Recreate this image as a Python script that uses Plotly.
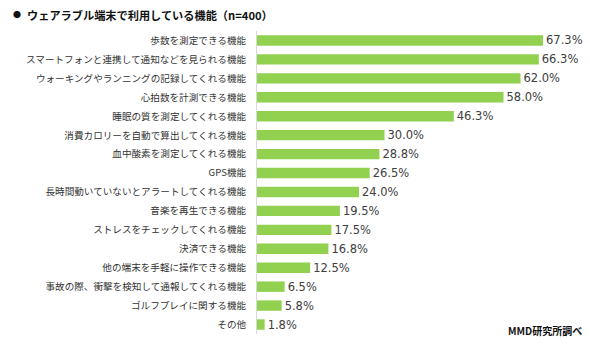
import plotly.graph_objects as go

categories = [
    "歩数を測定できる機能",
    "スマートフォンと連携して通知などを見られる機能",
    "ウォーキングやランニングの記録してくれる機能",
    "心拍数を計測できる機能",
    "睡眠の質を測定してくれる機能",
    "消費カロリーを自動で算出してくれる機能",
    "血中酸素を測定してくれる機能",
    "GPS機能",
    "長時間動いていないとアラートしてくれる機能",
    "音楽を再生できる機能",
    "ストレスをチェックしてくれる機能",
    "決済できる機能",
    "他の端末を手軽に操作できる機能",
    "事故の際、衝撃を検知して通報してくれる機能",
    "ゴルフプレイに関する機能",
    "その他",
]
values = [67.3, 66.3, 62.0, 58.0, 46.3, 30.0, 28.8, 26.5, 24.0, 19.5, 17.5, 16.8, 12.5, 6.5, 5.8, 1.8]
title_text = "<b>ウェアラブル端末で利用している機能（n=400）</b>"
source_text = "<b>MMD研究所調べ</b>"

FONT = "Noto Sans CJK JP, sans-serif"
NUM_FONT = "DejaVu Sans, sans-serif"
L, R, T, B = 257, 0, 30.5, 10.5
W, H = 590, 345
plot_w = W - L - R
plot_h = H - T - B


def px_to_paper(px, py):
    return (px - L) / plot_w, 1 - (py - T) / plot_h


fig = go.Figure(
    go.Bar(
        x=values,
        y=categories,
        orientation="h",
        marker=dict(color="#92D050", line=dict(width=0)),
        text=[f"{v:.1f}%" for v in values],
        textposition="outside",
        constraintext="none",
        textfont=dict(family=NUM_FONT, size=11.5, color="#404040"),
        cliponaxis=False,
        width=0.55,
    )
)

tx, ty = px_to_paper(25, 14)
bx, by = px_to_paper(11, 14)
sx, sy = px_to_paper(584, 331)

fig.update_layout(
    width=W,
    height=H,
    margin=dict(l=L, r=R, t=T, b=B),
    paper_bgcolor="white",
    plot_bgcolor="white",
    showlegend=False,
    font=dict(family=FONT, size=9.6, color="#333333"),
    xaxis=dict(
        range=[0, 78.35],
        visible=False,
        showgrid=False,
        zeroline=False,
    ),
    yaxis=dict(
        autorange="reversed",
        automargin=False,
        showline=True,
        linecolor="#d9d9d9",
        linewidth=1,
        ticks="",
        ticklabelstandoff=8,
        tickfont=dict(family=FONT, size=9.6, color="#333333"),
        showgrid=False,
    ),
    annotations=[
        dict(
            text="●",
            x=bx, y=by, xref="paper", yref="paper",
            showarrow=False,
            xanchor="left", yanchor="middle",
            font=dict(family=FONT, size=8, color="#111111"),
        ),
        dict(
            text=title_text,
            x=tx, y=ty, xref="paper", yref="paper",
            showarrow=False,
            xanchor="left", yanchor="middle",
            font=dict(family=FONT, size=11.2, color="#111111"),
        ),
        dict(
            text=source_text,
            x=sx, y=sy, xref="paper", yref="paper",
            showarrow=False,
            xanchor="right", yanchor="middle",
            font=dict(family=FONT, size=10, color="#111111"),
        ),
    ],
)

fig.write_html("out.html")
